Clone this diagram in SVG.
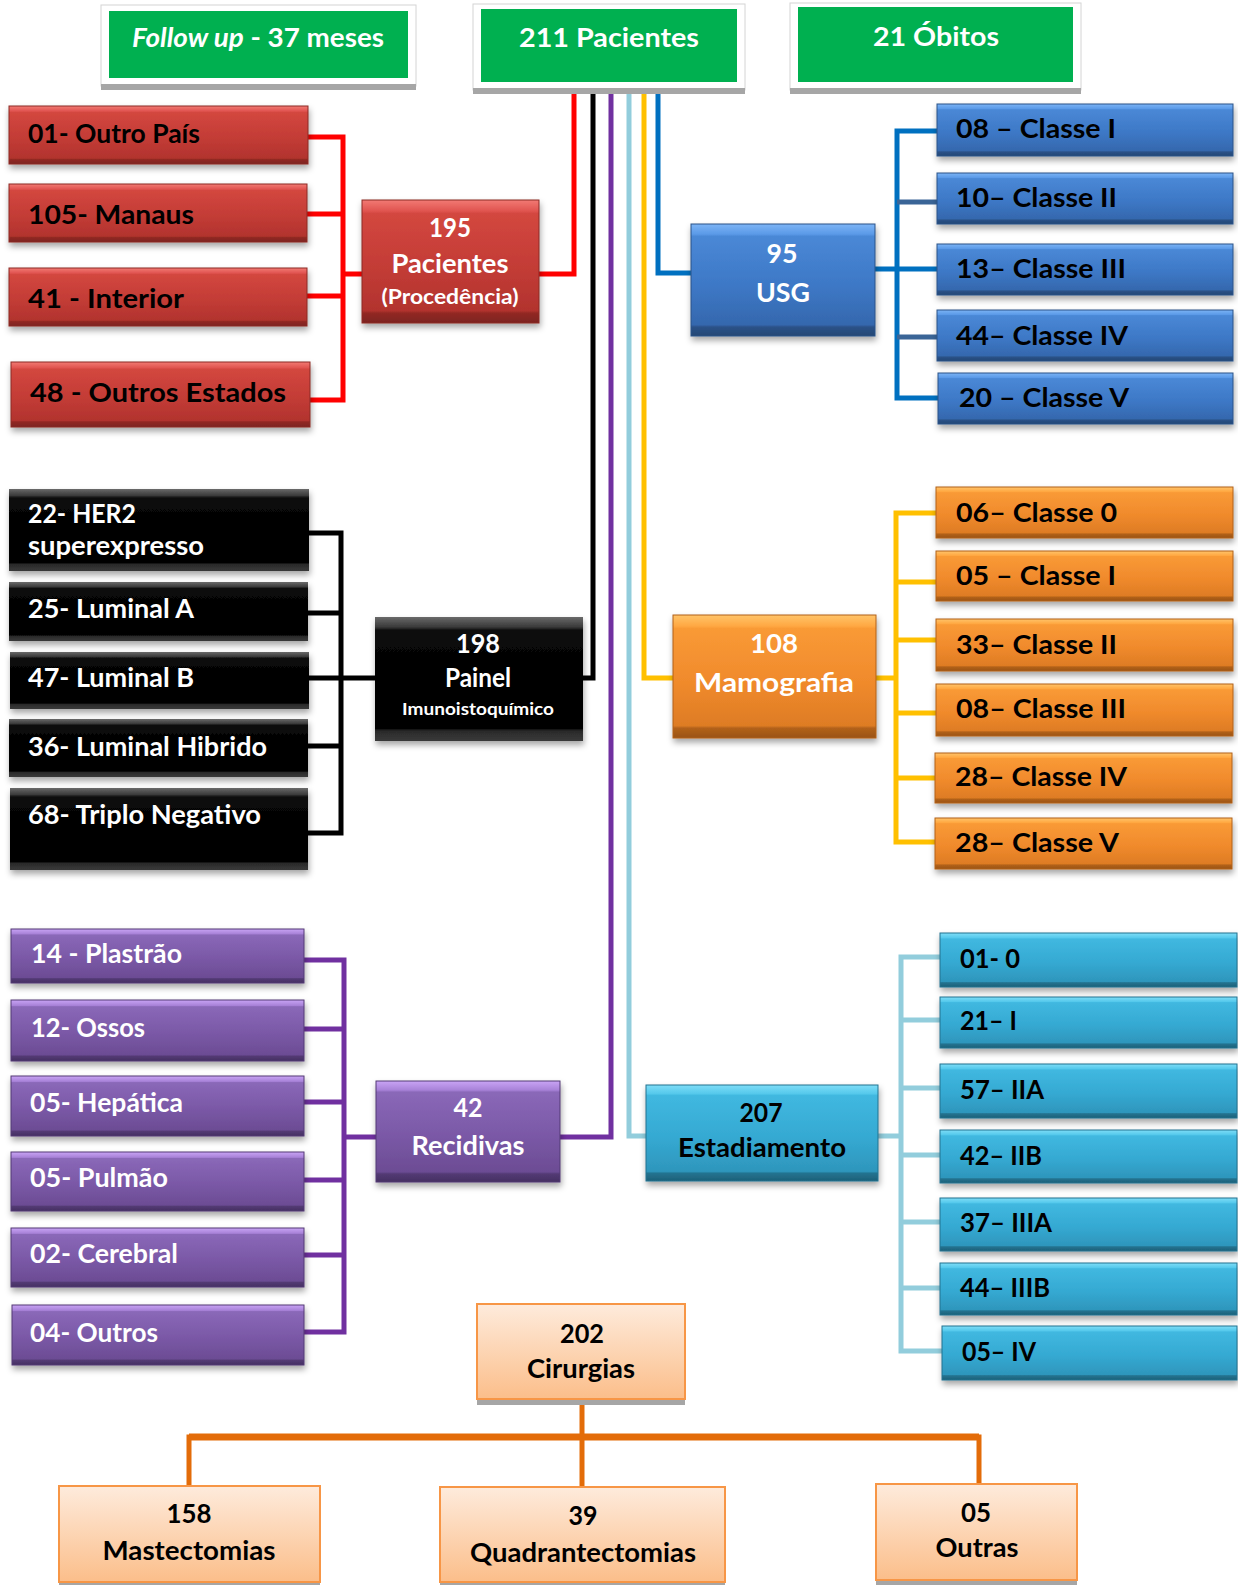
<svg xmlns="http://www.w3.org/2000/svg" width="1238" height="1585" viewBox="0 0 1238 1585">
<style>
.t{font-family:Lato,"Open Sans","Liberation Sans",sans-serif;font-weight:700;font-size:26px}
.s21{font-size:21px}
.s17{font-size:17px}
.w{fill:#fff}
.k{fill:#000}
.frame{fill:#fff;stroke:#D4D4D4;stroke-width:1}
.fsh{fill:#A6A6A6}
.green{fill:#00B050}
.ln{fill:none;stroke-width:5;stroke-linejoin:miter;stroke-linecap:butt}
.bx{filter:url(#sh)}
</style>
<defs>
<filter id="sh" x="-5%" y="-10%" width="115%" height="140%">
<feDropShadow dx="1" dy="4" stdDeviation="3" flood-color="#000" flood-opacity="0.35"/>
</filter>
<linearGradient id="gRed" x1="0" y1="0" x2="0" y2="1">
<stop offset="0" stop-color="#F27A74"/><stop offset="0.09" stop-color="#E0544F"/><stop offset="0.11" stop-color="#D3473F"/><stop offset="0.55" stop-color="#C33C36"/><stop offset="0.9" stop-color="#B2332E"/><stop offset="0.92" stop-color="#922924"/><stop offset="1" stop-color="#7C231F"/>
</linearGradient>
<linearGradient id="gBlue" x1="0" y1="0" x2="0" y2="1">
<stop offset="0" stop-color="#7CB4F5"/><stop offset="0.09" stop-color="#5B9AE8"/><stop offset="0.11" stop-color="#4A88D6"/><stop offset="0.55" stop-color="#3D78C6"/><stop offset="0.9" stop-color="#3568AE"/><stop offset="0.92" stop-color="#2B5288"/><stop offset="1" stop-color="#244874"/>
</linearGradient>
<linearGradient id="gOr" x1="0" y1="0" x2="0" y2="1">
<stop offset="0" stop-color="#FFC46A"/><stop offset="0.09" stop-color="#FFA842"/><stop offset="0.11" stop-color="#F99A36"/><stop offset="0.55" stop-color="#F08A2C"/><stop offset="0.9" stop-color="#DE7C24"/><stop offset="0.92" stop-color="#B2611A"/><stop offset="1" stop-color="#9A5416"/>
</linearGradient>
<linearGradient id="gPu" x1="0" y1="0" x2="0" y2="1">
<stop offset="0" stop-color="#C9A4F5"/><stop offset="0.09" stop-color="#A882D8"/><stop offset="0.11" stop-color="#8A68B8"/><stop offset="0.55" stop-color="#7A58A6"/><stop offset="0.9" stop-color="#6C4C94"/><stop offset="0.92" stop-color="#533A74"/><stop offset="1" stop-color="#463062"/>
</linearGradient>
<linearGradient id="gCy" x1="0" y1="0" x2="0" y2="1">
<stop offset="0" stop-color="#7FDDF7"/><stop offset="0.09" stop-color="#55C9EC"/><stop offset="0.11" stop-color="#40B8E0"/><stop offset="0.55" stop-color="#35A9D2"/><stop offset="0.9" stop-color="#2E96BC"/><stop offset="0.92" stop-color="#237390"/><stop offset="1" stop-color="#1D6078"/>
</linearGradient>
<linearGradient id="gBk" x1="0" y1="0" x2="0" y2="1">
<stop offset="0" stop-color="#6A6A6A"/><stop offset="0.08" stop-color="#3A3A3A"/><stop offset="0.11" stop-color="#0A0A0A"/><stop offset="0.55" stop-color="#000"/><stop offset="0.9" stop-color="#050505"/><stop offset="0.92" stop-color="#2A2A2A"/><stop offset="1" stop-color="#3A3A3A"/>
</linearGradient>
<linearGradient id="gPe" x1="0" y1="0" x2="0" y2="1">
<stop offset="0" stop-color="#FEEBDC"/><stop offset="1" stop-color="#FBBE8A"/>
</linearGradient>
</defs>

<g id="connectors">
<path class="ln" stroke="#FF0000" d="M308,137 H343 V400 H310 M307,214 H343 M307,296 H343 M343,274 H362 M539,274 H574 V88"/>
<path class="ln" stroke="#000" d="M292,533 H341 V833 H292 M292,613 H341 M292,678 H375 M292,746 H341 M583,678 H593 V88"/>
<path class="ln" stroke="#7030A0" d="M304,960 H344 V1332 H304 M304,1029 H344 M304,1102 H344 M304,1180 H344 M304,1255 H344 M344,1137 H376 M560,1137 H611 V88"/>
<path class="ln" stroke="#92CDDC" d="M629,88 V1136 H646 M878,1136 H901 M940,957 H901 V1351 H942 M901,1020 H940 M901,1088 H940 M901,1155 H940 M901,1222 H940 M901,1288 H940"/>
<path class="ln" stroke="#FFC000" d="M644,88 V678 H673 M876,678 H896 M936,513 H896 V842 H935 M896,582 H936 M896,640 H936 M896,713 H936 M896,778 H935"/>
<path class="ln" stroke="#0070C0" d="M658,88 V273 H691 M875,269 H937 M937,131 H897 V398 H938"/>
<path class="ln" stroke="#3A6597" d="M897,202 H937 M897,337 H937"/>
<path class="ln" stroke="#E36C09" d="M582,1399 V1437 M189,1486 V1437 H979 V1484 M582,1437 V1487"/>
<path fill="none" stroke="#E36C09" stroke-width="7" d="M189,1437 H979"/>
</g>

<g id="followup">
<rect class="frame" x="101" y="5" width="315" height="81"/>
<rect class="fsh" x="101" y="84" width="315" height="6"/>
<rect class="green" x="109" y="11" width="299" height="67"/>
<text class="t w" x="258" y="47" text-anchor="middle" textLength="252" lengthAdjust="spacingAndGlyphs"><tspan font-style="italic">Follow up</tspan> - 37 meses</text>
</g>
<g id="total">
<rect class="frame" x="473" y="4" width="272" height="86"/>
<rect class="fsh" x="473" y="88" width="272" height="6"/>
<rect class="green" x="481" y="9" width="256" height="73"/>
<text class="t w" x="609" y="47" text-anchor="middle" textLength="180" lengthAdjust="spacingAndGlyphs">211 Pacientes</text>
</g>
<g id="obitos">
<rect class="frame" x="790" y="3" width="291" height="87"/>
<rect class="fsh" x="790" y="88" width="291" height="6"/>
<rect class="green" x="798" y="7" width="275" height="75"/>
<text class="t w" x="936" y="46" text-anchor="middle" textLength="126" lengthAdjust="spacingAndGlyphs">21 Óbitos</text>
</g>

<g id="proc-outro-pais"><rect class="bx" x="9" y="106" width="299" height="58" fill="url(#gRed)" stroke="#8B2A26"/><text class="t k" x="28" y="143" textLength="172" lengthAdjust="spacingAndGlyphs">01- Outro País</text></g>
<g id="proc-manaus"><rect class="bx" x="9" y="184" width="298" height="58" fill="url(#gRed)" stroke="#8B2A26"/><text class="t k" x="28" y="224" textLength="166" lengthAdjust="spacingAndGlyphs">105- Manaus</text></g>
<g id="proc-interior"><rect class="bx" x="9" y="268" width="298" height="58" fill="url(#gRed)" stroke="#8B2A26"/><text class="t k" x="28" y="308" textLength="156" lengthAdjust="spacingAndGlyphs">41 - Interior</text></g>
<g id="proc-outros-estados"><rect class="bx" x="11" y="362" width="299" height="65" fill="url(#gRed)" stroke="#8B2A26"/><text class="t k" x="30" y="402" textLength="256" lengthAdjust="spacingAndGlyphs">48 - Outros Estados</text></g>
<g id="procedencia"><rect class="bx" x="362" y="200" width="177" height="123" fill="url(#gRed)" stroke="#8B2A26"/>
<text class="t w" x="450" y="237" text-anchor="middle" textLength="42" lengthAdjust="spacingAndGlyphs">195</text>
<text class="t w" x="450" y="273" text-anchor="middle" textLength="117" lengthAdjust="spacingAndGlyphs">Pacientes</text>
<text class="t w s21" x="450" y="304" text-anchor="middle" textLength="137" lengthAdjust="spacingAndGlyphs">(Procedência)</text></g>

<g id="usg"><rect class="bx" x="691" y="224" width="184" height="112" fill="url(#gBlue)" stroke="#2B5288"/>
<text class="t w" x="782" y="263" text-anchor="middle" textLength="31" lengthAdjust="spacingAndGlyphs">95</text>
<text class="t w" x="783" y="302" text-anchor="middle" textLength="54" lengthAdjust="spacingAndGlyphs">USG</text></g>
<g id="usg-1"><rect class="bx" x="937" y="104" width="296" height="52" fill="url(#gBlue)" stroke="#2B5288"/><text class="t k" x="956" y="138" textLength="160" lengthAdjust="spacingAndGlyphs">08 – Classe I</text></g>
<g id="usg-2"><rect class="bx" x="937" y="173" width="296" height="51" fill="url(#gBlue)" stroke="#2B5288"/><text class="t k" x="956" y="207" textLength="161" lengthAdjust="spacingAndGlyphs">10– Classe II</text></g>
<g id="usg-3"><rect class="bx" x="937" y="244" width="296" height="51" fill="url(#gBlue)" stroke="#2B5288"/><text class="t k" x="956" y="278" textLength="170" lengthAdjust="spacingAndGlyphs">13– Classe III</text></g>
<g id="usg-4"><rect class="bx" x="937" y="310" width="296" height="51" fill="url(#gBlue)" stroke="#2B5288"/><text class="t k" x="956" y="345" textLength="172" lengthAdjust="spacingAndGlyphs">44– Classe IV</text></g>
<g id="usg-5"><rect class="bx" x="938" y="373" width="295" height="51" fill="url(#gBlue)" stroke="#2B5288"/><text class="t k" x="959" y="407" textLength="170" lengthAdjust="spacingAndGlyphs">20 – Classe V</text></g>

<g id="ihq-her2"><rect class="bx" x="9" y="489" width="300" height="82" fill="url(#gBk)"/><text class="t w" x="28" y="523" textLength="108" lengthAdjust="spacingAndGlyphs">22- HER2</text><text class="t w" x="28" y="555" textLength="176" lengthAdjust="spacingAndGlyphs">superexpresso</text></g>
<g id="ihq-lumA"><rect class="bx" x="9" y="582" width="299" height="59" fill="url(#gBk)"/><text class="t w" x="28" y="618" textLength="166" lengthAdjust="spacingAndGlyphs">25- Luminal A</text></g>
<g id="ihq-lumB"><rect class="bx" x="10" y="652" width="299" height="57" fill="url(#gBk)"/><text class="t w" x="28" y="687" textLength="166" lengthAdjust="spacingAndGlyphs">47- Luminal B</text></g>
<g id="ihq-hib"><rect class="bx" x="9" y="719" width="299" height="58" fill="url(#gBk)"/><text class="t w" x="28" y="756" textLength="239" lengthAdjust="spacingAndGlyphs">36- Luminal Hibrido</text></g>
<g id="ihq-tn"><rect class="bx" x="10" y="788" width="298" height="82" fill="url(#gBk)"/><text class="t w" x="28" y="824" textLength="233" lengthAdjust="spacingAndGlyphs">68- Triplo Negativo</text></g>
<g id="ihq"><rect class="bx" x="375" y="617" width="208" height="124" fill="url(#gBk)"/>
<text class="t w" x="478" y="653" text-anchor="middle" textLength="44" lengthAdjust="spacingAndGlyphs">198</text>
<text class="t w" x="478" y="687" text-anchor="middle" textLength="66" lengthAdjust="spacingAndGlyphs">Painel</text>
<text class="t w s17" x="478" y="715" text-anchor="middle" textLength="152" lengthAdjust="spacingAndGlyphs">Imunoistoquímico</text></g>

<g id="mamo"><rect class="bx" x="673" y="615" width="203" height="123" fill="url(#gOr)" stroke="#B2611A"/>
<text class="t w" x="774" y="653" text-anchor="middle" textLength="48" lengthAdjust="spacingAndGlyphs">108</text>
<text class="t w" x="774" y="692" text-anchor="middle" textLength="160" lengthAdjust="spacingAndGlyphs">Mamografia</text></g>
<g id="mamo-0"><rect class="bx" x="936" y="487" width="297" height="51" fill="url(#gOr)" stroke="#B2611A"/><text class="t k" x="956" y="522" textLength="161" lengthAdjust="spacingAndGlyphs">06– Classe 0</text></g>
<g id="mamo-1"><rect class="bx" x="936" y="551" width="297" height="50" fill="url(#gOr)" stroke="#B2611A"/><text class="t k" x="956" y="585" textLength="160" lengthAdjust="spacingAndGlyphs">05 – Classe I</text></g>
<g id="mamo-2"><rect class="bx" x="936" y="619" width="297" height="52" fill="url(#gOr)" stroke="#B2611A"/><text class="t k" x="956" y="654" textLength="161" lengthAdjust="spacingAndGlyphs">33– Classe II</text></g>
<g id="mamo-3"><rect class="bx" x="936" y="684" width="297" height="52" fill="url(#gOr)" stroke="#B2611A"/><text class="t k" x="956" y="718" textLength="170" lengthAdjust="spacingAndGlyphs">08– Classe III</text></g>
<g id="mamo-4"><rect class="bx" x="935" y="753" width="297" height="50" fill="url(#gOr)" stroke="#B2611A"/><text class="t k" x="955" y="786" textLength="172" lengthAdjust="spacingAndGlyphs">28– Classe IV</text></g>
<g id="mamo-5"><rect class="bx" x="935" y="818" width="297" height="51" fill="url(#gOr)" stroke="#B2611A"/><text class="t k" x="955" y="852" textLength="164" lengthAdjust="spacingAndGlyphs">28– Classe V</text></g>

<g id="rec-plastrao"><rect class="bx" x="11" y="929" width="293" height="54" fill="url(#gPu)" stroke="#533A74"/><text class="t w" x="31" y="963" textLength="151" lengthAdjust="spacingAndGlyphs">14 - Plastrão</text></g>
<g id="rec-ossos"><rect class="bx" x="11" y="1000" width="293" height="61" fill="url(#gPu)" stroke="#533A74"/><text class="t w" x="31" y="1037" textLength="114" lengthAdjust="spacingAndGlyphs">12- Ossos</text></g>
<g id="rec-hepatica"><rect class="bx" x="11" y="1076" width="293" height="60" fill="url(#gPu)" stroke="#533A74"/><text class="t w" x="30" y="1112" textLength="153" lengthAdjust="spacingAndGlyphs">05- Hepática</text></g>
<g id="rec-pulmao"><rect class="bx" x="11" y="1152" width="293" height="59" fill="url(#gPu)" stroke="#533A74"/><text class="t w" x="30" y="1187" textLength="138" lengthAdjust="spacingAndGlyphs">05- Pulmão</text></g>
<g id="rec-cerebral"><rect class="bx" x="11" y="1228" width="293" height="59" fill="url(#gPu)" stroke="#533A74"/><text class="t w" x="30" y="1263" textLength="148" lengthAdjust="spacingAndGlyphs">02- Cerebral</text></g>
<g id="rec-outros"><rect class="bx" x="12" y="1305" width="292" height="60" fill="url(#gPu)" stroke="#533A74"/><text class="t w" x="30" y="1342" textLength="128" lengthAdjust="spacingAndGlyphs">04- Outros</text></g>
<g id="recidivas"><rect class="bx" x="376" y="1081" width="184" height="101" fill="url(#gPu)" stroke="#533A74"/>
<text class="t w" x="468" y="1117" text-anchor="middle" textLength="29" lengthAdjust="spacingAndGlyphs">42</text>
<text class="t w" x="468" y="1155" text-anchor="middle" textLength="113" lengthAdjust="spacingAndGlyphs">Recidivas</text></g>

<g id="estad"><rect class="bx" x="646" y="1085" width="232" height="96" fill="url(#gCy)" stroke="#237390"/>
<text class="t k" x="761" y="1122" text-anchor="middle" textLength="43" lengthAdjust="spacingAndGlyphs">207</text>
<text class="t k" x="762" y="1157" text-anchor="middle" textLength="168" lengthAdjust="spacingAndGlyphs">Estadiamento</text></g>
<g id="est-0"><rect class="bx" x="940" y="933" width="297" height="54" fill="url(#gCy)" stroke="#237390"/><text class="t k" x="960" y="968" textLength="60" lengthAdjust="spacingAndGlyphs">01- 0</text></g>
<g id="est-1"><rect class="bx" x="940" y="997" width="297" height="51" fill="url(#gCy)" stroke="#237390"/><text class="t k" x="960" y="1030" textLength="57" lengthAdjust="spacingAndGlyphs">21– I</text></g>
<g id="est-2a"><rect class="bx" x="940" y="1064" width="297" height="54" fill="url(#gCy)" stroke="#237390"/><text class="t k" x="960" y="1099" textLength="84" lengthAdjust="spacingAndGlyphs">57– IIA</text></g>
<g id="est-2b"><rect class="bx" x="940" y="1130" width="297" height="53" fill="url(#gCy)" stroke="#237390"/><text class="t k" x="960" y="1165" textLength="82" lengthAdjust="spacingAndGlyphs">42– IIB</text></g>
<g id="est-3a"><rect class="bx" x="940" y="1198" width="297" height="53" fill="url(#gCy)" stroke="#237390"/><text class="t k" x="960" y="1232" textLength="92" lengthAdjust="spacingAndGlyphs">37– IIIA</text></g>
<g id="est-3b"><rect class="bx" x="940" y="1263" width="297" height="52" fill="url(#gCy)" stroke="#237390"/><text class="t k" x="960" y="1297" textLength="90" lengthAdjust="spacingAndGlyphs">44– IIIB</text></g>
<g id="est-4"><rect class="bx" x="942" y="1326" width="295" height="54" fill="url(#gCy)" stroke="#237390"/><text class="t k" x="962" y="1361" textLength="74" lengthAdjust="spacingAndGlyphs">05– IV</text></g>

<g id="cirurgias"><rect class="fsh" x="477" y="1398" width="208" height="7"/><rect x="477" y="1304" width="208" height="95" fill="url(#gPe)" stroke="#F79646" stroke-width="2"/>
<text class="t k" x="582" y="1343" text-anchor="middle" textLength="44" lengthAdjust="spacingAndGlyphs">202</text>
<text class="t k" x="581" y="1378" text-anchor="middle" textLength="108" lengthAdjust="spacingAndGlyphs">Cirurgias</text></g>
<g id="mastectomias"><rect class="fsh" x="59" y="1580" width="261" height="5"/><rect x="59" y="1486" width="261" height="96" fill="url(#gPe)" stroke="#F79646" stroke-width="2"/>
<text class="t k" x="189" y="1523" text-anchor="middle" textLength="45" lengthAdjust="spacingAndGlyphs">158</text>
<text class="t k" x="189" y="1560" text-anchor="middle" textLength="173" lengthAdjust="spacingAndGlyphs">Mastectomias</text></g>
<g id="quadrantectomias"><rect class="fsh" x="440" y="1580" width="285" height="5"/><rect x="440" y="1487" width="285" height="95" fill="url(#gPe)" stroke="#F79646" stroke-width="2"/>
<text class="t k" x="583" y="1525" text-anchor="middle" textLength="29" lengthAdjust="spacingAndGlyphs">39</text>
<text class="t k" x="583" y="1562" text-anchor="middle" textLength="226" lengthAdjust="spacingAndGlyphs">Quadrantectomias</text></g>
<g id="outras"><rect class="fsh" x="876" y="1578" width="201" height="7"/><rect x="876" y="1484" width="201" height="96" fill="url(#gPe)" stroke="#F79646" stroke-width="2"/>
<text class="t k" x="976" y="1522" text-anchor="middle" textLength="30" lengthAdjust="spacingAndGlyphs">05</text>
<text class="t k" x="977" y="1557" text-anchor="middle" textLength="83" lengthAdjust="spacingAndGlyphs">Outras</text></g>
</svg>
